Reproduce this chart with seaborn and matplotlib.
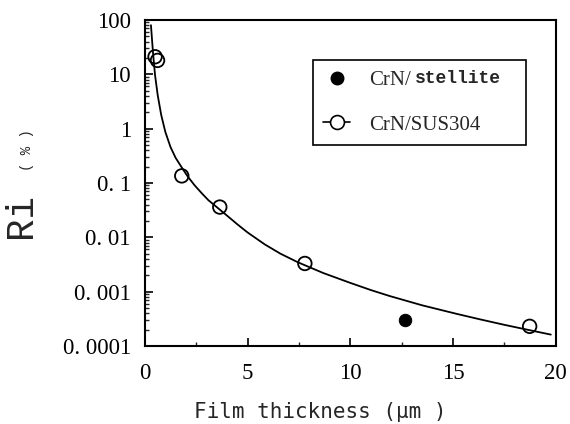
import matplotlib
matplotlib.use("Agg")
import matplotlib.pyplot as plt
from matplotlib.lines import Line2D
from matplotlib.ticker import FixedLocator, FixedFormatter, MultipleLocator, LogLocator, NullFormatter
import seaborn as sns

sus_x = [0.50, 0.62, 1.80, 3.65, 7.79, 18.73]
sus_y = [21.0, 18.0, 0.135, 0.036, 0.0033, 0.00023]
stellite_x = [12.65]
stellite_y = [0.0003]

# fitted curve, traced along its path
curve_x = [0.30, 0.40, 0.50, 0.63, 0.80, 1.00, 1.25, 1.50, 1.85, 2.10, 2.43, 2.80,
           3.10, 3.90, 4.50, 5.00, 5.84, 6.60, 7.45, 8.70, 10.0, 11.0, 11.92,
           13.5, 15.18, 16.3, 17.5, 18.6, 19.76]
curve_y = [80, 25, 9.6, 4.1, 1.78, 0.87, 0.46, 0.29, 0.18, 0.13, 0.09, 0.063,
           0.048, 0.027, 0.0174, 0.0123, 0.0074, 0.0050, 0.00347, 0.00219, 0.00145,
           0.00107, 0.00083, 0.00056, 0.00039, 0.00031, 0.000245, 0.0002, 0.000162]

ytick_vals = [0.0001, 0.001, 0.01, 0.1, 1, 10, 100]
ytick_labels = ['0. 0001', '0. 001', '0. 01', '0. 1', '1', '10', '100']
xtick_vals = [0, 5, 10, 15, 20]

sns.set_style("ticks")
plt.rcParams['font.family'] = ['Liberation Serif', 'DejaVu Serif']

fig = plt.figure(figsize=(5.7, 4.24), dpi=100)
ax = fig.add_axes([0.254, 0.184, 0.721, 0.769])
ax.set_yscale('log')

sns.lineplot(x=curve_x, y=curve_y, color='black', lw=1.3, ax=ax, legend=False)
sns.scatterplot(x=sus_x, y=sus_y, marker='o', s=95, facecolor='none',
                edgecolor='black', linewidth=1.3, ax=ax, zorder=3)
sns.scatterplot(x=stellite_x, y=stellite_y, marker='o', s=80, color='black',
                edgecolor='black', ax=ax, zorder=3)

ax.set_xlim(0, 20)
ax.set_ylim(0.0001, 100)
ax.xaxis.set_major_locator(FixedLocator(xtick_vals))
ax.xaxis.set_minor_locator(MultipleLocator(2.5))
ax.yaxis.set_major_locator(FixedLocator(ytick_vals))
ax.yaxis.set_major_formatter(FixedFormatter(ytick_labels))
ax.yaxis.set_minor_locator(LogLocator(base=10, subs=range(2, 10)))
ax.yaxis.set_minor_formatter(NullFormatter())

ax.tick_params(axis='both', which='major', direction='in', length=6, width=1.2,
               labelsize=16.5, colors='black')
ax.tick_params(axis='both', which='minor', direction='in', length=3, width=1.0)
ax.tick_params(axis='y', which='major', pad=10)
ax.tick_params(axis='x', which='major', pad=12)
for sp in ax.spines.values():
    sp.set_linewidth(1.5)
    sp.set_color('black')

ax.set_xlabel('')
ax.set_ylabel('')
fig.text(320 / 570, 1 - 412 / 424, 'Film thickness (\u03bcm )', ha='center', va='center',
         fontsize=15, family='DejaVu Sans Mono')
fig.text(21 / 570, 1 - 216 / 424, 'Ri', rotation=90, ha='center', va='center',
         fontsize=27, family='Liberation Mono')
fig.text(27 / 570, 1 - 150 / 424, '( % )', rotation=90, ha='center', va='center',
         fontsize=10, family='Liberation Mono')

handles = [
    Line2D([], [], marker='o', color='black', ls='none', markersize=9),
    Line2D([], [], marker='o', color='black', mfc='white', mec='black',
           lw=1.2, markersize=10, mew=1.2),
]
leg = ax.legend(handles, ['CrN/', 'CrN/SUS304'], loc='upper left',
                bbox_to_anchor=(0.409, 0.617, 0.518, 0.26), mode='expand',
                fontsize=15, frameon=True, fancybox=False, framealpha=1,
                edgecolor='black', handlelength=1.3, handletextpad=0.9,
                labelspacing=1.2, borderpad=0.5, borderaxespad=0)
leg.get_frame().set_linewidth(1.2)

# small "stellite" after the first legend entry
fig.canvas.draw()
bb = leg.get_texts()[0].get_window_extent()
fig.text((bb.x1 + 4) / fig.bbox.width, (bb.y0 + bb.y1) / 2 / fig.bbox.height + 0.004,
         'stellite', ha='left', va='center', fontsize=13,
         family='Liberation Mono', fontweight='bold')

fig.savefig('out.png', dpi=100)
